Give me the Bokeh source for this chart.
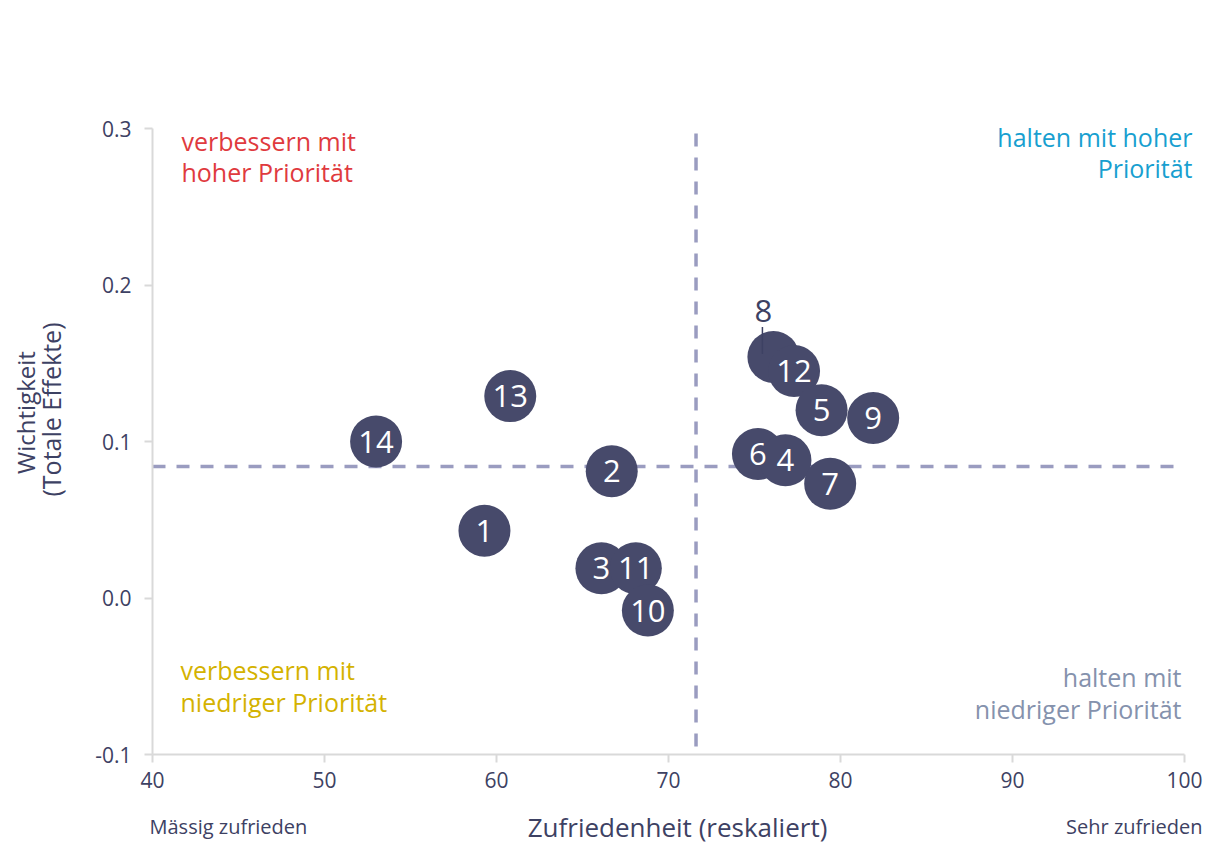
import math
from bokeh.plotting import figure
from bokeh.models import Range1d, Label, FixedTicker, NumeralTickFormatter, ColumnDataSource, LinearAxis
from bokeh.core.properties import value
from bokeh.embed import file_html
from bokeh.resources import INLINE

# ---- data ----
ids = ["1", "2", "3", "4", "5", "6", "7", "8", "9", "10", "11", "12", "13", "14"]
satisfaction = [59.3, 66.7, 66.1, 76.8, 78.9, 75.2, 79.4, 76.1, 81.9, 68.8, 68.1, 77.3, 60.8, 53.0]
importance = [0.043, 0.081, 0.019, 0.088, 0.120, 0.092, 0.073, 0.154, 0.115, -0.008, 0.019, 0.145, 0.129, 0.100]
draw_order = ["1", "2", "14", "13", "3", "11", "10", "6", "4", "7", "8", "12", "5", "9"]
outside_label = ["8"]
x_ticks = [40, 50, 60, 70, 80, 90, 100]
y_ticks = [-0.1, 0.0, 0.1, 0.2, 0.3]
x_threshold = 71.6
y_threshold = 0.084

FONT = "Open Sans"
NAVY = "#3d4163"
CIRCLE = "#474a6b"
DASH = "#9a9cc0"

# axis extent and its placement on the canvas
XMIN, XMAX, YMIN, YMAX = 40, 100, -0.1, 0.3
W, H = 1204, 845
AX_L, AX_T, AX_W, AX_H = 152, 128, 1032, 626
SX = AX_W / (XMAX - XMIN)
SY = AX_H / (YMAX - YMIN)
def dx(px):
    return px / SX
def dy(px):
    return px / SY
def px2x(px):
    return XMIN + (px - AX_L) / SX
def py2y(py):
    return YMAX - (py - AX_T) / SY

p = figure(width=W, height=H, min_border=0,
           x_range=Range1d(px2x(0), px2x(W)), y_range=Range1d(py2y(H), py2y(0)),
           x_axis_location=None, y_axis_location=None,
           output_backend="svg", toolbar_location=None, tools="")
p.outline_line_color = None
p.grid.visible = False
p.background_fill_color = "white"
p.border_fill_color = "white"

xax = LinearAxis(fixed_location=YMIN, bounds=(XMIN, XMAX), ticker=FixedTicker(ticks=x_ticks))
yax = LinearAxis(fixed_location=XMIN, bounds=(YMIN, YMAX), ticker=FixedTicker(ticks=y_ticks),
                 formatter=NumeralTickFormatter(format="0.0"))
for ax in (xax, yax):
    ax.axis_line_color = "#d9d9d9"
    ax.axis_line_width = 2
    ax.major_tick_line_color = "#d9d9d9"
    ax.major_tick_line_width = 2
    ax.major_tick_out = 8
    ax.major_tick_in = 0
    ax.minor_tick_line_color = None
    ax.major_label_text_color = NAVY
    ax.major_label_text_font = FONT
    ax.major_label_text_font_size = "21px"
xax.major_label_standoff = 9
yax.major_label_standoff = 13
p.add_layout(xax, "below")
p.add_layout(yax, "left")

# threshold lines (drawn from the top so the dash pattern starts there)
p.segment(x0=[x_threshold], y0=[YMAX - dy(5)], x1=[x_threshold], y1=[YMIN],
          line_color=DASH, line_width=3.5, line_dash="13 11")
p.segment(x0=[XMIN], y0=[y_threshold], x1=[XMAX], y1=[y_threshold],
          line_color=DASH, line_width=3.5, line_dash="13 11")

order_idx = [ids.index(k) for k in draw_order]
src = ColumnDataSource(dict(
    x=[satisfaction[i] for i in order_idx],
    y=[importance[i] for i in order_idx],
    t=[("" if ids[i] in outside_label else ids[i]) for i in order_idx],
))
p.scatter("x", "y", source=src, size=52, fill_color=CIRCLE, line_color=None)
p.text("x", "y", text="t", source=src, text_color="white", text_font=value(FONT),
       text_font_size="31px", text_align="center", text_baseline="middle")

# outside label for 8 with leader line
for k in outside_label:
    i = ids.index(k)
    xs, ys = satisfaction[i], importance[i]
    p.segment(x0=[xs - dx(11)], y0=[ys + dy(3)], x1=[xs - dx(11)], y1=[ys + dy(30)],
              line_color=NAVY, line_width=1.5)
    p.text(x=[xs - dx(10)], y=[ys + dy(46)], text=[k], text_color=NAVY, text_font=value(FONT),
           text_font_size="31px", text_align="center", text_baseline="middle")

def lab(text, px, py, color, align="left", size="25px", angle=0.0):
    p.add_layout(Label(x=px2x(px), y=py2y(py), text=text, text_color=color,
                       text_font=FONT, text_font_size=size, text_align=align,
                       text_baseline="middle", angle=angle))

RED, CYAN, GOLD, GREY = "#e03a3e", "#189fd0", "#d4b200", "#8592ad"
lab("verbessern mit", 181, 140, RED)
lab("hoher Priorität", 181, 171, RED)
lab("halten mit hoher", 1192, 136, CYAN, "right")
lab("Priorität", 1192, 167, CYAN, "right")
lab("verbessern mit", 180, 669, GOLD)
lab("niedriger Priorität", 180, 701, GOLD)
lab("halten mit", 1181, 676, GREY, "right")
lab("niedriger Priorität", 1181, 708, GREY, "right")

lab("Mässig zufrieden", 149, 826, NAVY, "left", "20px")
lab("Sehr zufrieden", 1202, 826, NAVY, "right", "20px")
lab("Zufriedenheit (reskaliert)", 677, 826, NAVY, "center", "26px")
lab("Wichtigkeit", 25, 412, NAVY, "center", "24px", math.pi / 2)
lab("(Totale Effekte)", 50, 409, NAVY, "center", "25px", math.pi / 2)

open("out.html", "w").write(file_html(p, INLINE))
